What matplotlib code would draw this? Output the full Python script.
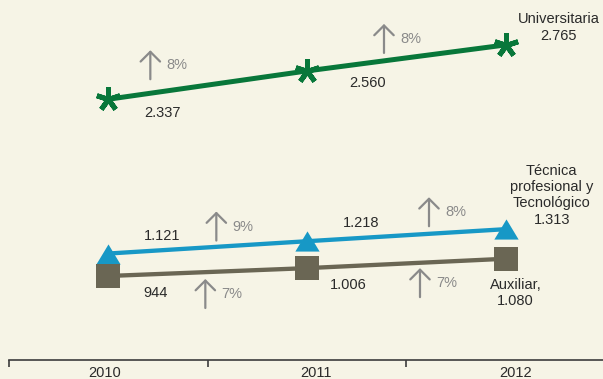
import matplotlib
matplotlib.use('Agg')
import matplotlib.pyplot as plt
import matplotlib.transforms as mtransforms
from matplotlib.path import Path

# datos (miles)
years = ['2010', '2011', '2012']
universitaria = [2337, 2560, 2765]
tecnica = [1121, 1218, 1313]
auxiliar = [944, 1006, 1080]
pct_universitaria = ['8%', '8%']
pct_tecnica = ['9%', '8%']
pct_auxiliar = ['7%', '7%']
names = ['Universitaria', 'Técnica\nprofesional y\nTecnológico', 'Auxiliar,']

BG = '#F6F4E6'
GREEN = '#08773A'
BLUE = '#1798C6'
BROWN = '#6A6654'
ARROW = '#8A8A8A'
TXT = '#2A2A2A'
FONT = 'Liberation Sans'
FS = 10.5


def fmt(v):
    return f"{v:,}".replace(',', '.')


fig = plt.figure(figsize=(6.03, 3.79), dpi=100, facecolor=BG)
ax = fig.add_axes([9 / 603, 19 / 379, 594 / 603, 360 / 379])
ax.set_facecolor(BG)

x = list(range(len(years)))
ax.set_xlim(-0.5, 2.49)
ax.set_ylim(282, 3119)

tri = Path([(0, 0.83), (-1, -0.83), (1, -0.83), (0, 0.83)],
           [Path.MOVETO, Path.LINETO, Path.LINETO, Path.CLOSEPOLY])

ax.plot(x, universitaria, color=GREEN, lw=3.6, marker=(5, 2, 0),
        ms=17.5, mew=3.6, mec=GREEN, zorder=3)
ax.plot(x, tecnica, color=BLUE, lw=3.1, marker=tri, ms=17.5,
        mfc=BLUE, mec=BLUE, mew=0, zorder=3)
ax.plot(x, auxiliar, color=BROWN, lw=3.1, marker='s', ms=16.6,
        mfc=BROWN, mew=0, zorder=3)

# eje
for s in ['left', 'top', 'right']:
    ax.spines[s].set_visible(False)
ax.spines['bottom'].set_color('#3C3C3C')
ax.spines['bottom'].set_linewidth(1.2)
ax.set_yticks([])
ax.set_xticks([i - 0.5 for i in x])
ax.set_xticklabels([])
ax.tick_params(axis='x', direction='out', length=5, width=1.2, color='#3C3C3C')


def off(dx, dy):
    return mtransforms.offset_copy(ax.transData, fig=fig, x=dx, y=dy, units='dots')


year_dx = [-4, 9, 10]
for i, yr in enumerate(years):
    ax.annotate(yr, xy=(i, 0), xycoords=('data', 'axes fraction'),
                xytext=(year_dx[i], -13), textcoords='offset pixels',
                ha='center', va='center', fontsize=FS, family=FONT, color=TXT)

series = [
    (universitaria, pct_universitaria,
     [(54, -14), (61, -12), (53, 17.5)], [(42, 20), (77, 18)]),
    (tecnica, pct_tecnica,
     [(54, 18), (54, 18), (46, 34)], [(108, 13), (122, 15)]),
    (auxiliar, pct_auxiliar,
     [(47, -17), (41, -17), (10, -34)], [(97, -32), (113, -29)]),
]

for k, (vals, pcts, lab_off, arr_off) in enumerate(series):
    for i, v in enumerate(vals):
        dx, dy = lab_off[i]
        label = fmt(v)
        if i == len(vals) - 1:
            label = names[k] + '\n' + label
        ax.text(i, v, label, transform=off(dx, dy), ha='center', va='center',
                fontsize=FS, family=FONT, color=TXT, linespacing=1.22)
    for i, p in enumerate(pcts):
        dx, base = arr_off[i]
        ax.annotate('', xy=(i, vals[i]), xycoords=off(dx, base + 29),
                    xytext=(0, -29), textcoords='offset pixels',
                    arrowprops=dict(arrowstyle='->,head_length=0.7,head_width=0.7',
                                    color=ARROW, lw=1.6, shrinkA=0, shrinkB=0,
                                    mutation_scale=10))
        ax.text(i, vals[i], p, transform=off(dx + 16, base + 14), ha='left',
                va='center', fontsize=FS, family=FONT, color=ARROW)

fig.savefig('out.png', dpi=100, facecolor=BG)
